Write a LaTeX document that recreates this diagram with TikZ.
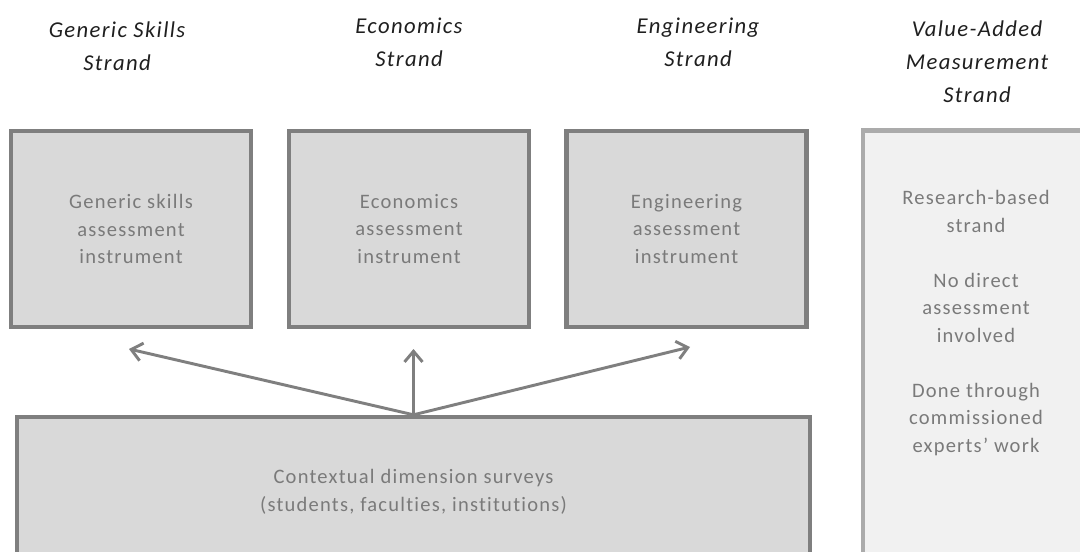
\documentclass[tikz,border=0pt]{standalone}
\usepackage{fontspec}
\setmainfont{Carlito}[LetterSpace=6,Ligatures=NoCommon]
\usetikzlibrary{arrows.meta}
\definecolor{boxfill}{HTML}{D9D9D9}
\definecolor{boxline}{HTML}{7F7F7F}
\definecolor{txtgray}{HTML}{7A7A7A}
\definecolor{vafill}{HTML}{F1F1F1}
\definecolor{valine}{HTML}{ABABAB}
\definecolor{headtxt}{HTML}{1F1F1F}
\begin{document}
\begin{tikzpicture}[x=0.75pt,y=-0.75pt,
  instbox/.style={draw=boxline, fill=boxfill, line width=3.3pt, inner sep=0pt,
    minimum width=180pt, minimum height=147pt, align=center, text=txtgray,
    font=\fontsize{15.4}{20.6}\selectfont},
  vabox/.style={draw=valine, fill=vafill, line width=3.3pt, inner sep=0pt,
    minimum width=170pt, minimum height=326pt},
  ctxbox/.style={draw=boxline, fill=boxfill, line width=3.3pt, inner sep=0pt,
    minimum width=594.75pt, minimum height=123pt},
  bodytext/.style={align=center, text=txtgray, inner sep=0pt, anchor=base,
    font=\fontsize{15.4}{20.6}\selectfont},
  heading/.style={align=center, text=headtxt, inner sep=0pt, anchor=base,
    font=\itshape\fontsize{17}{24.75}\selectfont},
  conn/.style={draw=boxline, line width=2.2pt,
    -{Straight Barb[length=8pt,width=13.5pt,line width=2.2pt]}}]
\useasboundingbox (0,0) rectangle (1080,552);
\clip (0,0) rectangle (1080,552);

% headings (anchor = baseline of last line)
\node[heading] (h1) at (117,71) {Generic Skills\\Strand};
\node[heading] (h2) at (409,67) {Economics\\Strand};
\node[heading] (h3) at (698,67) {Engineering\\Strand};
\node[heading] (h4) at (977,103) {Value-Added\\Measurement\\Strand};

% instrument boxes
\node[instbox] (b1) at (131,229) {Generic skills\\assessment\\instrument};
\node[instbox] (b2) at (409,229) {Economics\\assessment\\instrument};
\node[instbox] (b3) at (686.5,229) {Engineering\\assessment\\instrument};

% value-added box
\node[vabox] (va) at (976.5,348) {};
\node[bodytext] (vatext) at (976,452) {Research-based\\strand\\[20.6pt]No direct\\assessment\\involved\\[20.6pt]Done through\\commissioned\\experts’ work};

% contextual box
\node[ctxbox] (ctx) at (413.5,499) {};
\node[bodytext] (ctxtext) at (413.5,511) {Contextual dimension surveys\\(students, faculties, institutions)};

% arrows
\coordinate (tL) at (129,349);
\coordinate (tM) at (413.5,349);
\coordinate (tR) at (690,347);
\draw[conn] (ctx.north) -- (tL);
\draw[conn] (ctx.north) -- (tM);
\draw[conn] (ctx.north) -- (tR);
\end{tikzpicture}
\end{document}
